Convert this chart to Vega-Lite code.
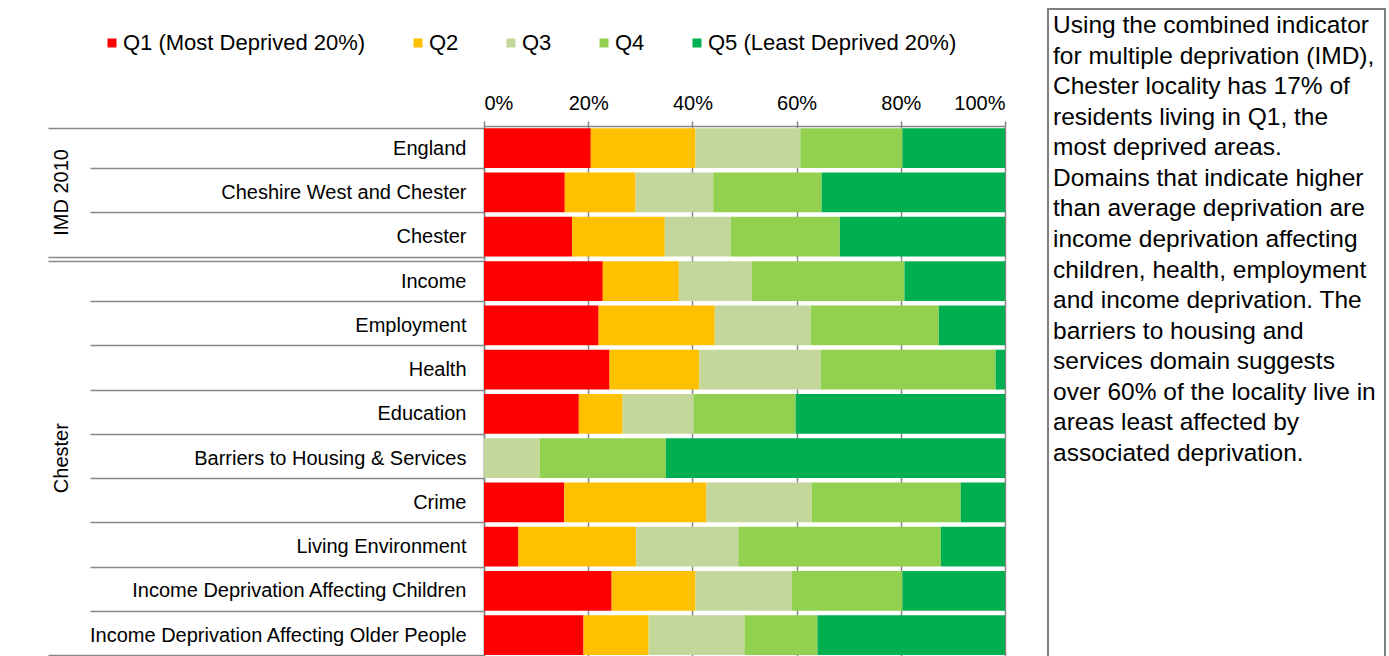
{
  "$schema": "https://vega.github.io/schema/vega-lite/v6.json",
  "padding": {"left": 47, "top": 8, "right": 0, "bottom": 0},
  "background": "white",
  "config": {
    "font": "Liberation Sans",
    "view": {"stroke": null},
    "axis": {"labelFont": "Liberation Sans", "labelColor": "#000000"}
  },
  "datasets": {
    "bars": [
      {"group": "IMD 2010", "area": "England", "Q1 (Most Deprived 20%)": 20.5, "Q2": 20.1, "Q3": 20.1, "Q4": 19.6, "Q5 (Least Deprived 20%)": 19.7},
      {"group": "IMD 2010", "area": "Cheshire West and Chester", "Q1 (Most Deprived 20%)": 15.5, "Q2": 13.6, "Q3": 14.9, "Q4": 20.8, "Q5 (Least Deprived 20%)": 35.2},
      {"group": "IMD 2010", "area": "Chester", "Q1 (Most Deprived 20%)": 16.9, "Q2": 17.8, "Q3": 12.7, "Q4": 20.9, "Q5 (Least Deprived 20%)": 31.7},
      {"group": "Chester", "area": "Income", "Q1 (Most Deprived 20%)": 22.8, "Q2": 14.6, "Q3": 14.0, "Q4": 29.3, "Q5 (Least Deprived 20%)": 19.3},
      {"group": "Chester", "area": "Employment", "Q1 (Most Deprived 20%)": 22.0, "Q2": 22.3, "Q3": 18.4, "Q4": 24.6, "Q5 (Least Deprived 20%)": 12.7},
      {"group": "Chester", "area": "Health", "Q1 (Most Deprived 20%)": 24.1, "Q2": 17.2, "Q3": 23.3, "Q4": 33.6, "Q5 (Least Deprived 20%)": 1.8},
      {"group": "Chester", "area": "Education", "Q1 (Most Deprived 20%)": 18.2, "Q2": 8.4, "Q3": 13.6, "Q4": 19.6, "Q5 (Least Deprived 20%)": 40.2},
      {"group": "Chester", "area": "Barriers to Housing & Services", "Q1 (Most Deprived 20%)": 0, "Q2": 0, "Q3": 10.7, "Q4": 24.2, "Q5 (Least Deprived 20%)": 65.1},
      {"group": "Chester", "area": "Crime", "Q1 (Most Deprived 20%)": 15.4, "Q2": 27.3, "Q3": 20.2, "Q4": 28.6, "Q5 (Least Deprived 20%)": 8.5},
      {"group": "Chester", "area": "Living Environment", "Q1 (Most Deprived 20%)": 6.6, "Q2": 22.6, "Q3": 19.6, "Q4": 38.9, "Q5 (Least Deprived 20%)": 12.3},
      {"group": "Chester", "area": "Income Deprivation Affecting Children", "Q1 (Most Deprived 20%)": 24.5, "Q2": 16.1, "Q3": 18.5, "Q4": 21.2, "Q5 (Least Deprived 20%)": 19.7},
      {"group": "Chester", "area": "Income Deprivation Affecting Older People", "Q1 (Most Deprived 20%)": 19.1, "Q2": 12.5, "Q3": 18.4, "Q4": 14.0, "Q5 (Least Deprived 20%)": 36.0}
    ],
    "note": [
      {"line": 1, "text": "Using the combined indicator"},
      {"line": 2, "text": "for multiple deprivation (IMD),"},
      {"line": 3, "text": "Chester locality has 17% of"},
      {"line": 4, "text": "residents living in Q1, the"},
      {"line": 5, "text": "most deprived areas."},
      {"line": 6, "text": "Domains that indicate higher"},
      {"line": 7, "text": "than average deprivation are"},
      {"line": 8, "text": "income deprivation affecting"},
      {"line": 9, "text": "children, health, employment"},
      {"line": 10, "text": "and income deprivation. The"},
      {"line": 11, "text": "barriers to housing and"},
      {"line": 12, "text": "services domain suggests"},
      {"line": 13, "text": "over 60% of the locality live in"},
      {"line": 14, "text": "areas least affected by"},
      {"line": 15, "text": "associated deprivation."}
    ]
  },
  "spacing": 41,
  "align": "none",
  "resolve": {"scale": {"color": "independent"}, "legend": {"color": "independent"}},
  "hconcat": [
    {
      "vconcat": [
        {
          "data": {"values": []},
          "width": 521,
          "height": 117,
          "mark": {"type": "rect", "opacity": 0},
          "encoding": {}
        },
        {
          "data": {"name": "bars"},
          "transform": [
            {"fold": ["Q1 (Most Deprived 20%)", "Q2", "Q3", "Q4", "Q5 (Least Deprived 20%)"], "as": ["quintile", "share"]}
          ],
          "facet": {
            "row": {
              "field": "group", "type": "nominal", "sort": ["IMD 2010", "Chester"], "title": null,
              "header": {"labelAngle": -90, "labelOrient": "left", "labelFontSize": 20, "labelFont": "Liberation Sans", "labelColor": "#000000", "labelPadding": 402}
            }
          },
          "spacing": 0,
          "bounds": "flush",
          "resolve": {"scale": {"y": "independent"}},
          "spec": {
            "width": 521,
            "height": {"step": 44.25},
            "mark": {"type": "bar"},
            "encoding": {
              "y": {
                "field": "area", "type": "nominal", "sort": null,
                "scale": {"paddingInner": 0.1, "paddingOuter": 0.05},
                "axis": {
                  "orient": "left", "title": null,
                  "domain": true, "domainColor": "#878787", "domainWidth": 1.5,
                  "tickBand": "extent", "tickColor": "#878787", "tickWidth": 1.5,
                  "tickSize": {"condition": {"test": "datum.index < 0 || datum.index >= 1", "value": 436}, "value": 394},
                  "labelPadding": {"condition": {"test": "datum.index < 0 || datum.index >= 1", "value": -418}, "value": -376},
                  "labelFontSize": 20, "labelLimit": 600, "labelColor": "#000000"
                }
              },
              "x": {
                "field": "share", "type": "quantitative", "stack": "normalize",
                "scale": {"domain": [0, 1], "nice": false},
                "axis": {
                  "orient": "top", "title": null, "format": ".0%", "values": [0, 0.2, 0.4, 0.6, 0.8, 1],
                  "domain": true, "domainColor": "#878787", "domainWidth": 1.5,
                  "ticks": true, "tickSize": 5, "tickColor": "#878787", "tickWidth": 1.5,
                  "grid": true, "gridColor": "#878787", "gridWidth": 1.5,
                  "labelFontSize": 20, "labelPadding": 8, "labelColor": "#000000"
                }
              },
              "color": {
                "field": "quintile", "type": "nominal",
                "scale": {
                  "domain": ["Q1 (Most Deprived 20%)", "Q2", "Q3", "Q4", "Q5 (Least Deprived 20%)"],
                  "range": ["#FF0000", "#FFC000", "#C4D79B", "#92D050", "#00B050"]
                },
                "legend": {
                  "orient": "none", "legendX": -406, "legendY": -117, "padding": 23,
                  "direction": "horizontal", "columns": 5, "title": null,
                  "symbolType": "square", "symbolSize": 81, "symbolStrokeWidth": 0, "symbolOpacity": 1,
                  "labelFontSize": 22, "labelFont": "Liberation Sans", "labelColor": "#000000",
                  "labelOffset": 0, "columnPadding": 41, "labelLimit": 600
                }
              }
            }
          }
        }
      ],
      "spacing": 0,
      "bounds": "flush",
      "resolve": {"scale": {"color": "independent"}, "legend": {"color": "independent"}}
    },
    {
      "data": {"name": "note"},
      "width": 337,
      "height": 660,
      "view": {"stroke": "#7f7f7f", "strokeWidth": 2},
      "mark": {"type": "text", "align": "left", "baseline": "middle", "fontSize": 24.5, "font": "Liberation Sans", "color": "#000000", "dx": 5},
      "encoding": {
        "x": {"datum": 0, "type": "quantitative", "scale": {"domain": [0, 1]}, "axis": null},
        "y": {"field": "line", "type": "quantitative", "scale": {"domain": [0.444, 22.035], "reverse": true, "nice": false, "zero": false}, "axis": null},
        "text": {"field": "text", "type": "nominal"}
      }
    }
  ]
}
